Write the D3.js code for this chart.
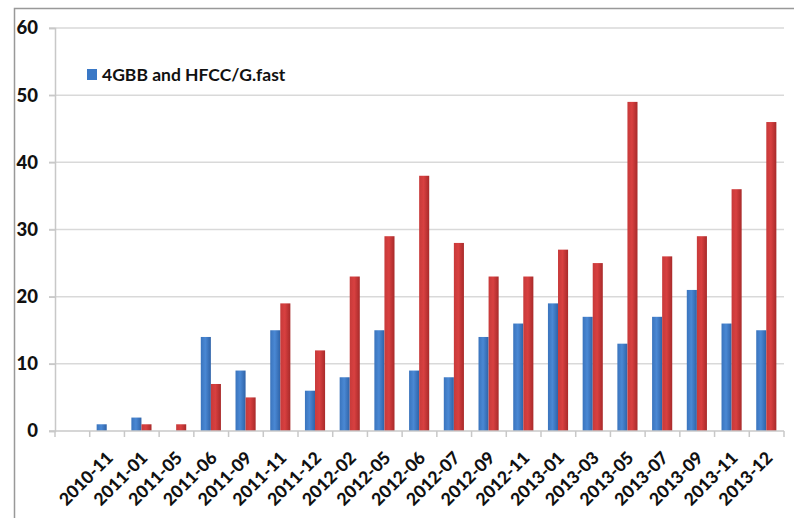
<!DOCTYPE html>
<html>
<head>
<meta charset="utf-8">
<script src="https://cdn.jsdelivr.net/npm/d3@7"></script>
<style>
  body { margin: 0; background: #fff; }
  svg { display: block; }
  text { font-family: Lato, "Open Sans", sans-serif; font-weight: bold; fill: #111; }
</style>
</head>
<body>
<span></span>
<script>
let width = 794;
let height = 518;

// blank first slot is part of the original chart
let categories = ["", "2010-11", "2011-01", "2011-05", "2011-06", "2011-09", "2011-11", "2011-12",
    "2012-02", "2012-05", "2012-06", "2012-07", "2012-09", "2012-11", "2013-01", "2013-03",
    "2013-05", "2013-07", "2013-09", "2013-11", "2013-12"];
let blueValues = [0, 1, 2, 0, 14, 9, 15, 6, 8, 15, 9, 8, 14, 16, 19, 17, 13, 17, 21, 16, 15];
let redValues = [0, 0, 1, 1, 7, 5, 19, 12, 23, 29, 38, 28, 23, 23, 27, 25, 49, 26, 29, 36, 46];
let yTicks = [0, 10, 20, 30, 40, 50, 60];
let legendLabel = "4GBB and HFCC/G.fast";

let plotLeft = 55, plotRight = 784, plotTop = 28, plotBottom = 431;

let svg = d3.select("span")
    .append("svg")
    .attr("width", width)
    .attr("height", height);

// gradients for bars
let defs = svg.append("defs");
function gradient(id, c1, c2, c3) {
    let g = defs.append("linearGradient").attr("id", id)
        .attr("x1", "0%").attr("x2", "100%").attr("y1", "0%").attr("y2", "0%");
    g.append("stop").attr("offset", "0%").attr("stop-color", c1);
    g.append("stop").attr("offset", "45%").attr("stop-color", c2);
    g.append("stop").attr("offset", "100%").attr("stop-color", c3);
}
gradient("gBlue", "#3a74bd", "#4a88d4", "#2f63a8");
gradient("gRed", "#c73a3a", "#d84040", "#a82a2a");

// outer frame
svg.append("path")
    .attr("d", "M14.5," + height + " V8.5 H" + width)
    .attr("fill", "none")
    .attr("stroke", "#999")
    .attr("stroke-width", 1.5);

let x = d3.scaleBand()
    .domain(categories)
    .range([plotLeft, plotRight]);

let inner = d3.scaleBand()
    .domain(["blue", "red"])
    .range([x.bandwidth() * 0.2, x.bandwidth() * 0.78]);

let y = d3.scaleLinear().domain([0, 60]).range([plotBottom, plotTop]);

// gridlines
svg.append("g")
    .selectAll("line")
    .data(yTicks.filter(d => d > 0))
    .join("line")
    .attr("x1", plotLeft - 6)
    .attr("x2", plotRight)
    .attr("y1", d => y(d))
    .attr("y2", d => y(d))
    .attr("stroke", "#d9d9d9")
    .attr("stroke-width", 1.5);

// y axis
let yAxis = svg.append("g")
    .attr("transform", "translate(" + plotLeft + ",0)")
    .call(d3.axisLeft(y).tickValues(yTicks).tickSize(6).tickPadding(11));
yAxis.select(".domain").attr("stroke", "#c8c8c8").attr("stroke-width", 1.5);
yAxis.selectAll(".tick line").attr("stroke", "#c8c8c8").attr("stroke-width", 1.5);
yAxis.selectAll(".tick text")
    .style("font-size", "18.5px")
    .style("font-family", "Lato, 'Open Sans', sans-serif")
    .style("font-weight", "900")
    .attr("fill", "#111");

// bars
let groups = svg.append("g")
    .selectAll("g")
    .data(categories.map((c, i) => ({ c: c, blue: blueValues[i], red: redValues[i] })))
    .join("g")
    .attr("transform", d => "translate(" + x(d.c) + ",0)");

groups.selectAll("rect")
    .data(d => [{ k: "blue", v: d.blue }, { k: "red", v: d.red }])
    .join("rect")
    .attr("x", d => inner(d.k))
    .attr("width", inner.bandwidth())
    .attr("y", d => y(d.v))
    .attr("height", d => y(0) - y(d.v))
    .attr("fill", d => d.k == "blue" ? "url(#gBlue)" : "url(#gRed)");

// x axis
let xTicks = d3.range(categories.length + 1).map(i => plotLeft + i * x.step());
svg.append("line")
    .attr("x1", plotLeft - 6).attr("x2", plotRight)
    .attr("y1", plotBottom).attr("y2", plotBottom)
    .attr("stroke", "#c8c8c8").attr("stroke-width", 1.5);
svg.append("g")
    .selectAll("line")
    .data(xTicks)
    .join("line")
    .attr("x1", d => d).attr("x2", d => d)
    .attr("y1", plotBottom).attr("y2", plotBottom + 6)
    .attr("stroke", "#c8c8c8").attr("stroke-width", 1.5);

svg.append("g")
    .selectAll("text")
    .data(categories.filter(c => c != ""))
    .join("text")
    .attr("text-anchor", "end")
    .attr("transform", d => "translate(" + (x(d) + x.bandwidth() / 2 + 7) + "," + (plotBottom + 28) + ") rotate(-45)")
    .style("font-size", "17.5px")
    .style("font-weight", "900")
    .text(d => d);

// legend
svg.append("rect")
    .attr("x", 87).attr("y", 69)
    .attr("width", 10).attr("height", 11)
    .attr("fill", "#3a78c6");
svg.append("text")
    .attr("x", 102).attr("y", 81)
    .style("font-size", "17.5px")
    .text(legendLabel);
</script>
</body>
</html>
